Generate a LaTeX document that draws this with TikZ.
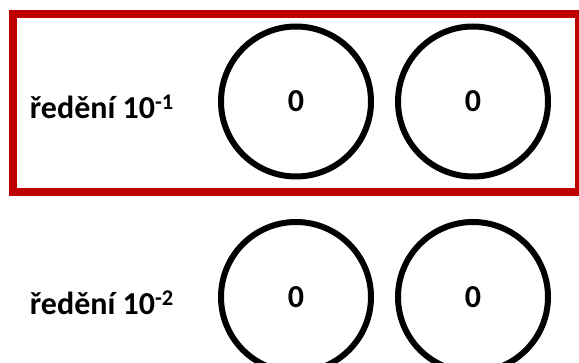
\documentclass[tikz,border=0pt]{standalone}
\usepackage{fontspec}
\setmainfont{Carlito}
\usetikzlibrary{positioning}
\definecolor{framered}{RGB}{192,0,0}
\newcommand{\Dilution}[1]{ředění 10\textsuperscript{#1}}

\begin{document}
\begin{tikzpicture}
[platenode/.style={circle,draw,line width=6pt,minimum size=150pt,inner
sep=0pt,font=\fontsize{32}{38}\selectfont\bfseries},
dilutionnode/.style={inner sep=0pt,anchor=base east,
font=\fontsize{32}{38}\selectfont\bfseries},
highlight/.style={draw=framered,line width=8pt}
]
\useasboundingbox (0pt,0pt) rectangle (579pt,-363pt);
% first dilution
\node [platenode] (P11) at (296pt,-101.5pt) {0};
\node [platenode,right=21pt of P11] (P12) {0};
\node [dilutionnode] (D1) at ([xshift=-44pt,yshift=-17.5pt]P11.west)
{\Dilution{-1}};
\draw [highlight] (13pt,-14pt) rectangle (579pt,-192.5pt);
% second dilution
\node [platenode,below=39.5pt of P11] (P21) {0};
\node [platenode,right=21pt of P21] (P22) {0};
\node [dilutionnode] (D2) at ([xshift=-44pt,yshift=-17.5pt]P21.west)
{\Dilution{-2}};
\end{tikzpicture}
\end{document}
